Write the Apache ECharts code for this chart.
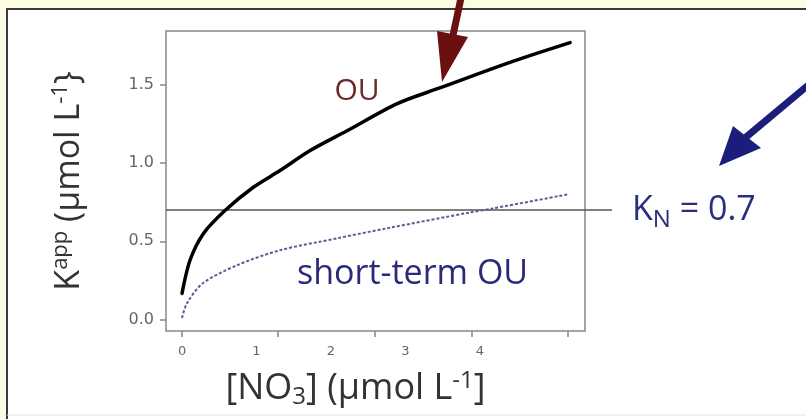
<!DOCTYPE html>
<html>
<head>
<meta charset="utf-8">
<script src="https://cdn.jsdelivr.net/npm/echarts@6/dist/echarts.min.js"></script>
<style>
html,body{margin:0;padding:0;background:#fcfce3;}
#chart{width:806px;height:419px;}
</style>
</head>
<body>
<div id="chart"></div>
<script>
// ---- data ----
const ouData = [
  [0, 0.167], [0.107, 0.379], [0.286, 0.549], [0.577, 0.697],
  [0.953, 0.844], [1.315, 0.952], [1.72, 1.08], [2.21, 1.205], [2.89, 1.38],
  [3.46, 1.48], [4.44, 1.65], [5.21, 1.77]
];
const shortTermData = [
  [0, 0.01], [0.067, 0.105], [0.28, 0.232], [0.738, 0.347],
  [1.315, 0.443], [2.08, 0.519], [2.75, 0.583], [3.87, 0.685], [4.17, 0.71],
  [5.18, 0.80]
];
const kN = 0.7;
const kNLineX = [-0.215, 5.77];
const xLabelValues = [0, 1, 2, 3, 4];
const xTickLabels = ['0', '1', '2', '3', '4'];
const xTickMarkValues = [0, 1.29, 2.59, 3.89, 5.18];
const yTickValues = [0, 0.5, 1.0, 1.5];
const yTickLabels = ['0.0', '0.5', '1.0', '1.5'];

const chart = echarts.init(document.getElementById('chart'), null, {renderer: 'canvas'});
const font = '"Open Sans", "DejaVu Sans", sans-serif';
const Y_MIN = -0.073, Y_MAX = 1.844, X_MIN = -0.215;

chart.setOption({
  backgroundColor: '#fcfce3',
  animation: false,
  grid: [
    {left: 166, right: 221, top: 31, bottom: 88,
     show: true, borderColor: '#888', borderWidth: 1.5, backgroundColor: '#fff'},
    {left: 166, right: 194, top: 31, bottom: 88, show: false}
  ],
  xAxis: [{
    type: 'value', min: X_MIN, max: 5.41, gridIndex: 0,
    axisLine: {show: false, onZero: false},
    splitLine: {show: false},
    axisTick: {show: true, customValues: xTickMarkValues, length: 6, lineStyle: {color: '#888', width: 1.5}},
    axisLabel: {
      customValues: xLabelValues,
      formatter: v => xTickLabels[xLabelValues.indexOf(v)],
      margin: 14, fontSize: 13, color: '#666', fontFamily: '"DejaVu Sans", sans-serif'
    },
    name: '[NO{sub|3}] (µmol L{sup|-1}]',
    nameLocation: 'middle', nameGap: 38,
    nameTextStyle: {
      fontSize: 36, color: '#333', fontFamily: font, padding: [0, 40, 0, 0],
      rich: {
        sub: {fontSize: 24, color: '#333', fontFamily: font, verticalAlign: 'bottom', padding: [16, 0, 0, 0]},
        sup: {fontSize: 24, color: '#333', fontFamily: font, verticalAlign: 'top', padding: [0, 0, 14, 0]}
      }
    }
  }, {
    type: 'value', min: X_MIN, max: kNLineX[1], gridIndex: 1, show: false
  }],
  yAxis: [{
    type: 'value', min: Y_MIN, max: Y_MAX, gridIndex: 0,
    axisLine: {show: false, onZero: false},
    splitLine: {show: false},
    axisTick: {show: true, customValues: yTickValues, length: 6, lineStyle: {color: '#888', width: 1.5}},
    axisLabel: {
      customValues: yTickValues,
      formatter: v => yTickLabels[yTickValues.indexOf(v)],
      margin: 12, fontSize: 16, color: '#666', fontFamily: '"DejaVu Sans", sans-serif'
    },
    name: 'K{sup|app} (µmol L{sup|-1}}',
    nameLocation: 'middle', nameRotate: 90, nameGap: 78,
    nameTextStyle: {
      fontSize: 34, color: '#333', fontFamily: font,
      rich: {
        sup: {fontSize: 22, color: '#333', fontFamily: font, verticalAlign: 'top', padding: [0, 0, 16, 0]}
      }
    }
  }, {
    type: 'value', min: Y_MIN, max: Y_MAX, gridIndex: 1, show: false
  }],
  series: [
    {
      name: 'K_N', type: 'line', symbol: 'none',
      xAxisIndex: 1, yAxisIndex: 1,
      data: kNLineX.map(x => [x, kN]),
      lineStyle: {color: '#555', width: 1.5},
      z: 1,
      endLabel: {
        show: true, distance: 20,
        formatter: 'K{sub|N} = ' + kN,
        fontSize: 34, color: '#2b2d80', fontFamily: font,
        rich: {sub: {fontSize: 24, color: '#2b2d80', fontFamily: font, verticalAlign: 'bottom', padding: [20, 0, 0, 0]}}
      }
    },
    {
      name: 'short-term OU', type: 'line', symbol: 'none', smooth: 0.3,
      data: shortTermData,
      lineStyle: {color: '#5c5c94', width: 2, type: [3, 2]},
      z: 2
    },
    {
      name: 'OU', type: 'line', symbol: 'none', smooth: 0.3,
      data: ouData,
      lineStyle: {color: '#000', width: 3.5, cap: 'round'},
      z: 3
    }
  ],
  graphic: [
    {type: 'rect', z: -100, silent: true, shape: {x: 7, y: 9, width: 830, height: 420},
     style: {fill: '#fff'}},
    {type: 'polyline', z: -99, silent: true, shape: {points: [[7, 425], [7, 9], [810, 9]]},
     style: {stroke: '#3a3a3a', lineWidth: 2}},
    {type: 'line', z: -99, silent: true, shape: {x1: 7, y1: 415, x2: 810, y2: 415},
     style: {stroke: '#e4e4e4', lineWidth: 1}},
    {type: 'text', style: {x: 357, y: 91, text: 'OU', fontSize: 30, fill: '#6b2a2a', fontFamily: font, align: 'center', verticalAlign: 'middle'}},
    {type: 'text', style: {x: 297, y: 274, text: 'short-term OU', fontSize: 34, fill: '#2b2a7a', fontFamily: font, align: 'left', verticalAlign: 'middle'}},
    // dark red arrow
    {type: 'polyline', shape: {points: [[461, -2], [452, 40]]}, style: {stroke: '#6a1010', lineWidth: 7}},
    {type: 'polygon', shape: {points: [[437, 31], [468, 37], [442, 82]]}, style: {fill: '#6a1010'}},
    // navy arrow
    {type: 'polyline', shape: {points: [[812, 82], [745, 138]]}, style: {stroke: '#1c1c7a', lineWidth: 7}},
    {type: 'polygon', shape: {points: [[733, 126], [761, 148], [719, 166]]}, style: {fill: '#1c1c7a'}}
  ]
});
</script>
</body>
</html>
